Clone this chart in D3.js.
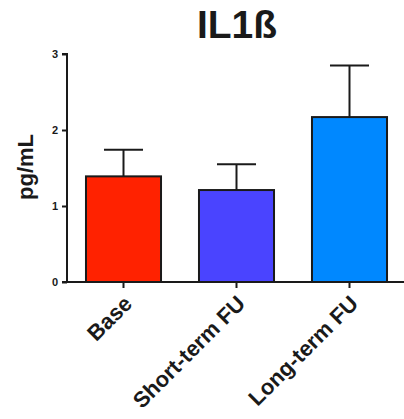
<!DOCTYPE html>
<html>
<head>
<meta charset="utf-8">
<script src="https://cdn.jsdelivr.net/npm/d3@7"></script>
<style>
  html, body { margin: 0; padding: 0; background: #fff; }
  svg { display: block; }
  text { font-family: "Liberation Sans", Arial, sans-serif; font-weight: bold; fill: #1a1a1a; }
</style>
</head>
<body>
<svg id="chart" width="404" height="419"></svg>
<script>
// IL1β concentration per follow-up group (mean with upper SEM whisker)
const categories = ["Base", "Short-term FU", "Long-term FU"];
const means = [1.39, 1.21, 2.17];
const upperErr = [1.74, 1.55, 2.85];
const barColors = ["#ff2200", "#4a44ff", "#0088ff"];
const yTicks = [0, 1, 2, 3];

const FONT = "'Liberation Sans', Arial, sans-serif";
const svg = d3.select("#chart");

const x = d3.scaleBand()
  .domain(categories)
  .range([67, 406])
  .paddingInner(0.336)
  .paddingOuter(0.168);

const y = d3.scaleLinear().domain([0, 3]).range([282, 54]);

// title
svg.append("text")
  .attr("x", 237).attr("y", 38)
  .attr("text-anchor", "middle")
  .style("font-size", "39px")
  .text("IL1ß");

// y axis title
svg.append("text")
  .attr("transform", "translate(33,167) rotate(-90)")
  .attr("text-anchor", "middle")
  .style("font-size", "22px")
  .text("pg/mL");

// error bars (drawn first so the bar body covers the stem base)
const errG = svg.append("g").attr("stroke", "#1a1a1a").attr("stroke-width", 2).attr("fill", "none");
categories.forEach((c, i) => {
  const cx = x(c) + x.bandwidth() / 2;
  const capHalf = x.bandwidth() * 0.26;
  errG.append("line")
    .attr("x1", cx).attr("x2", cx)
    .attr("y1", y(means[i])).attr("y2", y(upperErr[i]));
  errG.append("line")
    .attr("x1", cx - capHalf).attr("x2", cx + capHalf)
    .attr("y1", y(upperErr[i])).attr("y2", y(upperErr[i]));
});

// bars
svg.append("g").selectAll("rect")
  .data(categories)
  .join("rect")
  .attr("x", d => x(d))
  .attr("y", (d, i) => y(means[i]))
  .attr("width", x.bandwidth())
  .attr("height", (d, i) => y(0) - y(means[i]))
  .attr("fill", (d, i) => barColors[i])
  .attr("stroke", "#1a1a1a")
  .attr("stroke-width", 2);

// y axis
const yAxis = svg.append("g")
  .attr("transform", "translate(67,0)")
  .call(d3.axisLeft(y).tickValues(yTicks).tickFormat(d3.format("d")).tickSize(5).tickPadding(4));
yAxis.select(".domain").attr("stroke", "#1a1a1a").attr("stroke-width", 2).attr("d", `M0,${y(0)}V${y(3)}H-5`);
yAxis.selectAll(".tick line").attr("stroke", "#1a1a1a").attr("stroke-width", 2);
yAxis.selectAll(".tick text").style("font-size", "11px").style("font-family", FONT).attr("fill", "#1a1a1a");

// x axis
const xAxis = svg.append("g")
  .attr("transform", `translate(0,${y(0)})`)
  .call(d3.axisBottom(x).tickSize(6).tickSizeOuter(0));
xAxis.select(".domain").attr("stroke", "#1a1a1a").attr("stroke-width", 2).attr("d", "M62,0H406");
xAxis.selectAll(".tick line").attr("stroke", "#1a1a1a").attr("stroke-width", 2);
xAxis.selectAll(".tick text")
  .style("font-size", "22px")
  .style("font-family", FONT)
  .attr("fill", "#1a1a1a")
  .attr("text-anchor", "end")
  .attr("transform", "translate(10,23) rotate(-45)")
  .attr("dy", 0)
  .attr("y", 0).attr("x", 0);
</script>
</body>
</html>
